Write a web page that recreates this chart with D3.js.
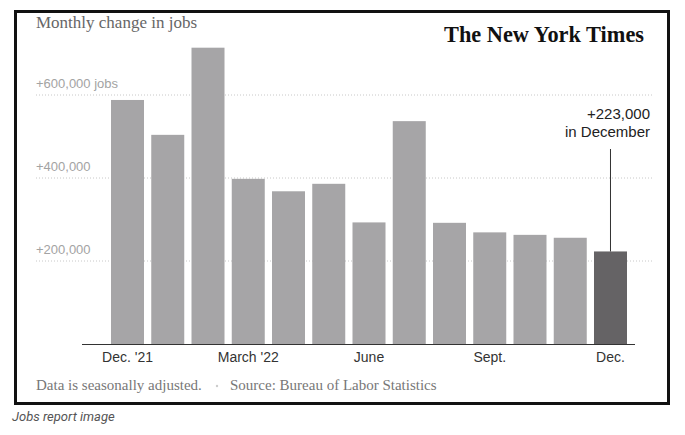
<!DOCTYPE html>
<html><head><meta charset="utf-8">
<script src="https://cdn.jsdelivr.net/npm/d3@7"></script>
<style>html,body{margin:0;padding:0;background:#fff;}svg{display:block;}</style>
</head><body>
<script>
const months = ["Dec 2021","Jan 2022","Feb 2022","Mar 2022","Apr 2022","May 2022","Jun 2022","Jul 2022","Aug 2022","Sep 2022","Oct 2022","Nov 2022","Dec 2022"];
const jobs = [588000,504000,714000,398000,368000,386000,293000,537000,292000,269000,263000,256000,223000];
const tickLabels = ["Dec. '21","","","March '22","","","June","","","Sept.","","","Dec."];
const yTicks = [200000,400000,600000];
const yTickLabels = ["+200,000","+400,000","+600,000 jobs"];
const title = "Monthly change in jobs";
const annotation = ["+223,000","in December"];

const W = 685, H = 435;
const svg = d3.select("body").append("svg").attr("width", W).attr("height", H);

const x = d3.scaleBand().domain(months).range([111, 627]).paddingInner(0.18).paddingOuter(0);
const y = d3.scaleLinear().domain([0, 600000]).range([344, 95]);

// frame
svg.append("rect").attr("x",15.5).attr("y",11.5).attr("width",653).attr("height",392)
  .attr("fill","#fff").attr("stroke","#111").attr("stroke-width",3);

// title
svg.append("text").attr("x",36).attr("y",28).text(title)
  .attr("font-family","'Liberation Serif', serif").attr("font-size",17).attr("fill","#666");

// logo
svg.append("text").attr("x",444).attr("y",42).text("The New York Times")
  .attr("font-family","'Liberation Serif', serif").attr("font-weight","bold").attr("font-size",23)
  .attr("textLength",200).attr("lengthAdjust","spacingAndGlyphs").attr("fill","#111");

// gridlines
svg.append("g").selectAll("line").data(yTicks).join("line")
  .attr("x1",36).attr("x2",652).attr("y1",d=>y(d)).attr("y2",d=>y(d))
  .attr("stroke","#c8c8c8").attr("stroke-width",1).attr("stroke-dasharray","1,2");

// y labels
svg.append("g").selectAll("text").data(yTicks).join("text")
  .attr("x",36).attr("y",d=>y(d)-7).text((d,i)=>yTickLabels[i])
  .attr("font-family","'Liberation Sans', Arial, sans-serif").attr("font-size",13).attr("fill","#a3a3a3");

// bars
svg.append("g").selectAll("rect").data(jobs).join("rect")
  .attr("x",(d,i)=>x(months[i])).attr("width",x.bandwidth())
  .attr("y",d=>y(d)).attr("height",d=>y(0)-y(d))
  .attr("fill",(d,i)=> i===jobs.length-1 ? "#656365" : "#a6a5a7");

// x axis line
svg.append("line").attr("x1",82).attr("x2",635).attr("y1",y(0)+0.5).attr("y2",y(0)+0.5)
  .attr("stroke","#333").attr("stroke-width",1.2);

// x labels
svg.append("g").selectAll("text").data(months).join("text")
  .attr("x",d=>x(d)+x.bandwidth()/2).attr("y",362).attr("text-anchor","middle")
  .text((d,i)=>tickLabels[i])
  .attr("font-family","'Liberation Sans', Arial, sans-serif").attr("font-size",14).attr("fill","#333");

// annotation
const last = months[months.length-1];
const ax = x(last)+x.bandwidth()/2;
svg.append("line").attr("x1",ax).attr("x2",ax).attr("y1",149).attr("y2",y(jobs[jobs.length-1]))
  .attr("stroke","#333").attr("stroke-width",1);
svg.append("g").selectAll("text").data(annotation).join("text")
  .attr("x",650).attr("y",(d,i)=>119+i*18).attr("text-anchor","end").text(d=>d)
  .attr("font-family","'Liberation Sans', Arial, sans-serif").attr("font-size",15).attr("fill","#222");

// footer
svg.append("text").attr("x",36).attr("y",390).text("Data is seasonally adjusted.")
  .attr("font-family","'Liberation Serif', serif").attr("font-size",15).attr("fill","#777");
svg.append("circle").attr("cx",217).attr("cy",386).attr("r",1.2).attr("fill","#ccc");
svg.append("text").attr("x",230).attr("y",390).text("Source: Bureau of Labor Statistics")
  .attr("font-family","'Liberation Serif', serif").attr("font-size",15).attr("fill","#777");

// caption
svg.append("text").attr("x",12).attr("y",421).text("Jobs report image")
  .attr("font-family","Roboto, 'Liberation Sans', sans-serif").attr("font-style","italic")
  .attr("font-size",13).attr("fill","#555");
</script>
</body></html>
